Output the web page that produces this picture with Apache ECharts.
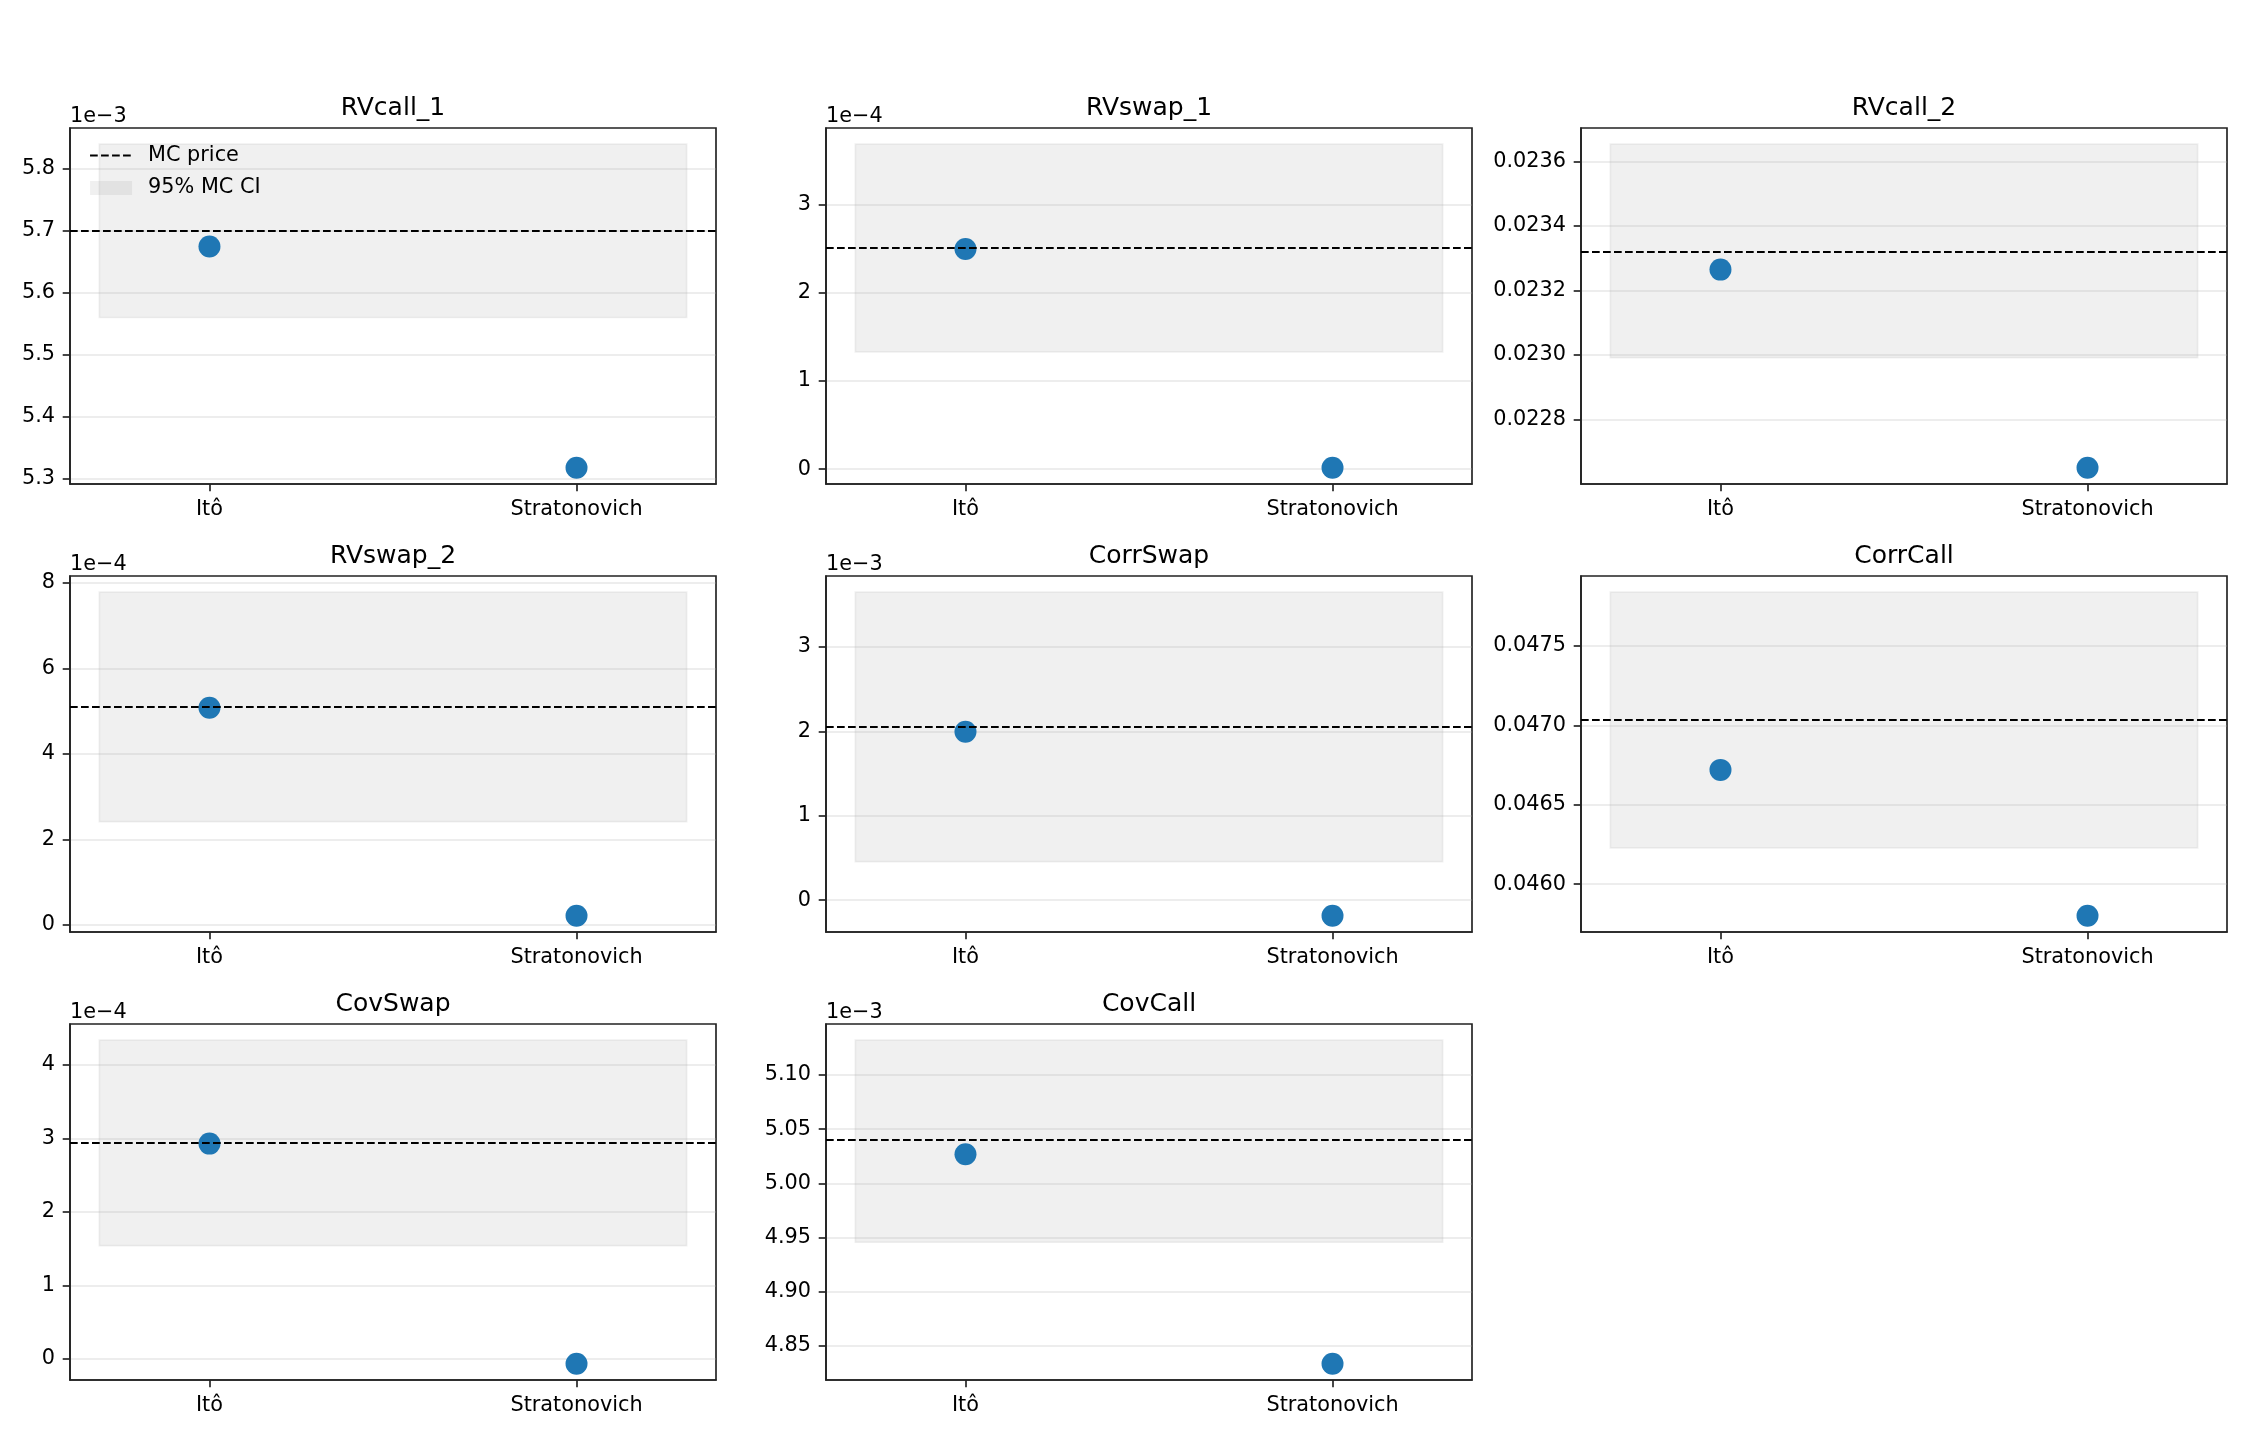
<!DOCTYPE html>
<html><head><meta charset="utf-8">
<script src="https://cdn.jsdelivr.net/npm/echarts@6/dist/echarts.min.js"></script>
<style>html,body{margin:0;padding:0;background:#fff}#c{width:2250px;height:1440px}</style>
</head><body><div id="c"></div>
<script>
// ---------- data ----------
const categories = ['Itô', 'Stratonovich'];
const titles = ['RVcall_1', 'RVswap_1', 'RVcall_2', 'RVswap_2', 'CorrSwap', 'CorrCall', 'CovSwap', 'CovCall'];
const itoValues   = [5.6744e-3, 2.50e-4, 0.0232646, 5.08e-4, 1.996e-3, 0.046720, 2.93e-4, 5.0269e-3];
const stratValues = [5.318e-3, 0.015e-4, 0.0226503, 0.217e-4, -0.185e-3, 0.045801, -0.068e-4, 4.8335e-3];
const mcPrices    = [5.700e-3, 2.51e-4, 0.023319, 5.099e-4, 2.059e-3, 0.047036, 2.937e-4, 5.0399e-3];
const ciLower     = [5.560e-3, 1.33e-4, 0.0229918, 2.419e-4, 0.457e-3, 0.046228, 1.540e-4, 4.9457e-3];
const ciUpper     = [5.839e-3, 3.69e-4, 0.0236533, 7.783e-4, 3.650e-3, 0.047839, 4.338e-4, 5.1321e-3];
const yTicks = [
  [5.3e-3, 5.4e-3, 5.5e-3, 5.6e-3, 5.7e-3, 5.8e-3],
  [0, 1e-4, 2e-4, 3e-4],
  [0.0228, 0.0230, 0.0232, 0.0234, 0.0236],
  [0, 2e-4, 4e-4, 6e-4, 8e-4],
  [0, 1e-3, 2e-3, 3e-3],
  [0.0460, 0.0465, 0.0470, 0.0475],
  [0, 1e-4, 2e-4, 3e-4, 4e-4],
  [4.85e-3, 4.90e-3, 4.95e-3, 5.00e-3, 5.05e-3, 5.10e-3]
];
const offsetLabels = ['1e\u22123', '1e\u22124', '', '1e\u22124', '1e\u22123', '', '1e\u22124', '1e\u22123'];
const tickScale    = [1e-3, 1e-4, 1, 1e-4, 1e-3, 1, 1e-4, 1e-3];
const tickDecimals = [1, 0, 4, 0, 0, 4, 0, 2];
const bandX = [-0.3, 1.3];

// ---------- layout / style ----------
const colLefts = [70, 826, 1581];
const rowTops = [128, 576, 1024];
const GW = 646, GH = 356;
const FONT = 'DejaVu Sans';
const FS = 20.8;
const bandColor = 'rgba(128,128,128,0.12)';
const dash = [7.7, 3.3];

const grids = [], xAxes = [], yAxes = [], series = [], titleComps = [];
titles.forEach((t, i) => {
  const left = colLefts[i % 3], top = rowTops[Math.floor(i / 3)];
  grids.push({left: left, top: top, width: GW, height: GH, show: true,
    borderColor: '#222', borderWidth: 1.67, backgroundColor: 'transparent', containLabel: false});
  titleComps.push({text: t, left: left + GW / 2, top: top - 32, textAlign: 'center', padding: 0,
    textStyle: {fontFamily: FONT, fontSize: 25, fontWeight: 'normal', color: '#000'}});
  const xm = 0.05 * (bandX[1] - bandX[0]);
  xAxes.push({gridIndex: i, type: 'value', min: bandX[0] - xm, max: bandX[1] + xm,
    splitLine: {show: false},
    axisLine: {show: true, onZero: false, lineStyle: {color: '#222', width: 1.67}},
    axisTick: {show: true, customValues: [0, 1], length: 7.3, lineStyle: {color: '#222', width: 1.67}},
    axisLabel: {customValues: [0, 1], formatter: v => categories[Math.round(v)] || '',
      fontFamily: FONT, fontSize: FS, color: '#000', margin: 15}});
  const all = [itoValues[i], stratValues[i], mcPrices[i], ciLower[i], ciUpper[i]];
  const lo = Math.min(...all), hi = Math.max(...all), m = 0.05 * (hi - lo);
  const sc = tickScale[i], dec = tickDecimals[i];
  yAxes.push({gridIndex: i, type: 'value', min: lo - m, max: hi + m, z: 1.5,
    name: offsetLabels[i], nameLocation: 'end', nameGap: 1,
    nameTextStyle: {fontFamily: FONT, fontSize: FS, color: '#000', align: 'left', verticalAlign: 'bottom'},
    splitLine: {show: true, lineStyle: {color: 'rgba(176,176,176,0.3)', width: 1.67}},
    axisLine: {show: true, onZero: false, lineStyle: {color: '#222', width: 1.67}},
    axisTick: {show: true, customValues: yTicks[i], length: 7.3, lineStyle: {color: '#222', width: 1.67}},
    axisLabel: {customValues: yTicks[i], formatter: v => (v / sc).toFixed(dec),
      fontFamily: FONT, fontSize: FS, color: '#000', margin: 15}});
  series.push({type: 'line', name: '95% MC CI', xAxisIndex: i, yAxisIndex: i, data: [], symbol: 'none',
    color: bandColor, lineStyle: {color: bandColor},
    markArea: {silent: true, z: 1, itemStyle: {color: bandColor, borderColor: bandColor, borderWidth: 1.67},
      emphasis: {disabled: true},
      data: [[{xAxis: bandX[0], yAxis: ciLower[i]}, {xAxis: bandX[1], yAxis: ciUpper[i]}]]}});
  const vals = [itoValues[i], stratValues[i]];
  series.push({type: 'scatter', name: 'estimate', xAxisIndex: i, yAxisIndex: i, z: 3,
    data: categories.map((c, j) => [j, vals[j]]), symbolSize: 22,
    itemStyle: {color: '#1f77b4', opacity: 1}, emphasis: {disabled: true},
    markLine: {silent: true, z: 5, precision: 12, symbol: ['none', 'none'], label: {show: false},
      emphasis: {disabled: true},
      lineStyle: {color: '#000', width: 2.08, type: dash, opacity: 1},
      data: [{yAxis: mcPrices[i]}]}});
  series.push({type: 'line', name: 'MC price', xAxisIndex: i, yAxisIndex: i, data: [], symbol: 'none',
    color: '#000', lineStyle: {color: '#000', width: 2.08, type: dash}});
});

const option = {
  animation: false,
  backgroundColor: '#fff',
  textStyle: {fontFamily: FONT},
  title: titleComps,
  legend: {
    orient: 'vertical', left: 89, top: 145, padding: 0, itemGap: 11.5,
    itemWidth: 42, itemHeight: 14, selectedMode: false,
    textStyle: {fontFamily: FONT, fontSize: FS, color: '#000', lineHeight: 21, padding: [0, 0, 0, 11]},
    data: [
      {name: 'MC price', itemStyle: {color: 'rgba(0,0,0,0)', borderColor: 'rgba(0,0,0,0)', borderWidth: 0},
        lineStyle: {color: '#000', width: 2.08, type: dash}},
      {name: '95% MC CI', icon: 'rect', itemStyle: {color: bandColor, borderWidth: 0}}
    ]
  },
  grid: grids, xAxis: xAxes, yAxis: yAxes, series: series
};
const chart = echarts.init(document.getElementById('c'), null, {renderer: 'canvas'});
chart.setOption(option);
</script></body></html>
